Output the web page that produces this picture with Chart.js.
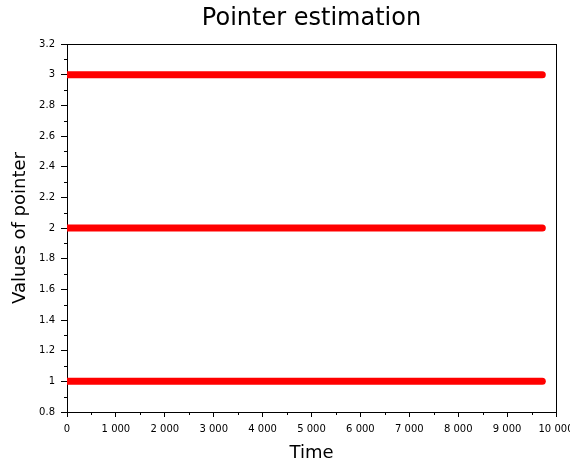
<!DOCTYPE html>
<html>
<head>
    <meta charset="utf-8">
    <title>Pointer estimation</title>
    <script src="https://cdn.jsdelivr.net/npm/chart.js"></script>
    <style>
        html, body {
            margin: 0;
            padding: 0;
            background: #ffffff;
        }
        #wrap {
            width: 570px;
            height: 464px;
        }
    </style>
</head>
<body>
<div id="wrap"><canvas id="chart" width="570" height="464"></canvas></div>
<script>
// Pointer levels and the time span they cover
const pointerLevels = [1, 2, 3];
const timeStart = 0;
const timeEnd = 9720;

// Axis ticks
const xTicks = [0, 1000, 2000, 3000, 4000, 5000, 6000, 7000, 8000, 9000, 10000];
const yTicks = [0.8, 1, 1.2, 1.4, 1.6, 1.8, 2, 2.2, 2.4, 2.6, 2.8, 3, 3.2];

const FONT = '"DejaVu Sans", Verdana, sans-serif';

function fmtX(v) {
    if (v === 0) return '0';
    return (v / 1000) + ' 000';
}
function fmtY(v) {
    return String(Math.round(v * 10) / 10);
}

// minor ticks half way between the major ones, plus the box on top/right
const frameAndMinor = {
    id: 'frameAndMinor',
    afterDraw(chart) {
        const { ctx, chartArea: a, scales } = chart;
        ctx.save();
        ctx.strokeStyle = '#000';
        ctx.lineWidth = 1;
        ctx.beginPath();
        for (let i = 0; i < xTicks.length - 1; i++) {
            const px = Math.round(scales.x.getPixelForValue((xTicks[i] + xTicks[i + 1]) / 2)) + 0.5;
            ctx.moveTo(px, a.bottom);
            ctx.lineTo(px, a.bottom + 3);
        }
        for (let i = 0; i < yTicks.length - 1; i++) {
            const py = Math.round(scales.y.getPixelForValue((yTicks[i] + yTicks[i + 1]) / 2)) + 0.5;
            ctx.moveTo(a.left - 3, py);
            ctx.lineTo(a.left, py);
        }
        ctx.moveTo(a.left, Math.round(a.top) + 0.5);
        ctx.lineTo(a.right, Math.round(a.top) + 0.5);
        ctx.moveTo(Math.round(a.right) + 0.5, a.top);
        ctx.lineTo(Math.round(a.right) + 0.5, a.bottom);
        ctx.stroke();
        ctx.restore();
    }
};

const datasets = pointerLevels.map(level => ({
    label: 'pointer ' + level,
    data: [{ x: timeStart, y: level }, { x: timeEnd, y: level }],
    showLine: true,
    borderColor: '#ff0000',
    backgroundColor: '#ff0000',
    borderWidth: 7,
    borderCapStyle: 'round',
    pointRadius: 0,
    clip: 0
}));

new Chart(document.getElementById('chart'), {
    type: 'scatter',
    data: { datasets },
    plugins: [frameAndMinor],
    options: {
        responsive: false,
        animation: false,
        layout: { padding: { left: 0, right: 14, top: 0, bottom: 0 } },
        plugins: {
            legend: { display: false },
            tooltip: { enabled: false },
            title: {
                display: true,
                text: 'Pointer estimation',
                fullSize: false,
                color: '#000',
                font: { family: FONT, size: 24, weight: 'normal' },
                padding: { top: 4, bottom: 11.2 }
            }
        },
        scales: {
            x: {
                type: 'linear',
                min: 0,
                max: 10000,
                afterBuildTicks(scale) {
                    scale.ticks = xTicks.map(v => ({ value: v }));
                },
                afterFit(scale) {
                    scale.height = 52;
                    scale.paddingLeft = 0;
                    scale.paddingRight = 0;
                },
                ticks: {
                    color: '#000',
                    font: { family: FONT, size: 10 },
                    padding: 6,
                    maxRotation: 0,
                    autoSkip: false,
                    callback: v => fmtX(v)
                },
                grid: {
                    drawOnChartArea: false,
                    color: '#000',
                    tickColor: '#000',
                    tickLength: 5
                },
                border: { color: '#000', width: 1 },
                title: {
                    display: true,
                    text: 'Time',
                    color: '#000',
                    font: { family: FONT, size: 18 },
                    padding: { top: 0, bottom: 0 }
                }
            },
            y: {
                type: 'linear',
                min: 0.8,
                max: 3.2,
                afterBuildTicks(scale) {
                    scale.ticks = yTicks.map(v => ({ value: v }));
                },
                afterFit(scale) {
                    scale.width = 67;
                    scale.paddingTop = 0;
                    scale.paddingBottom = 0;
                },
                ticks: {
                    color: '#000',
                    font: { family: FONT, size: 10 },
                    padding: 6,
                    autoSkip: false,
                    callback: v => fmtY(v)
                },
                grid: {
                    drawOnChartArea: false,
                    color: '#000',
                    tickColor: '#000',
                    tickLength: 6
                },
                border: { color: '#000', width: 1 },
                title: {
                    display: true,
                    text: 'Values of pointer',
                    color: '#000',
                    font: { family: FONT, size: 18 },
                    padding: { top: 10, bottom: 0 }
                }
            }
        }
    }
});
</script>
</body>
</html>
